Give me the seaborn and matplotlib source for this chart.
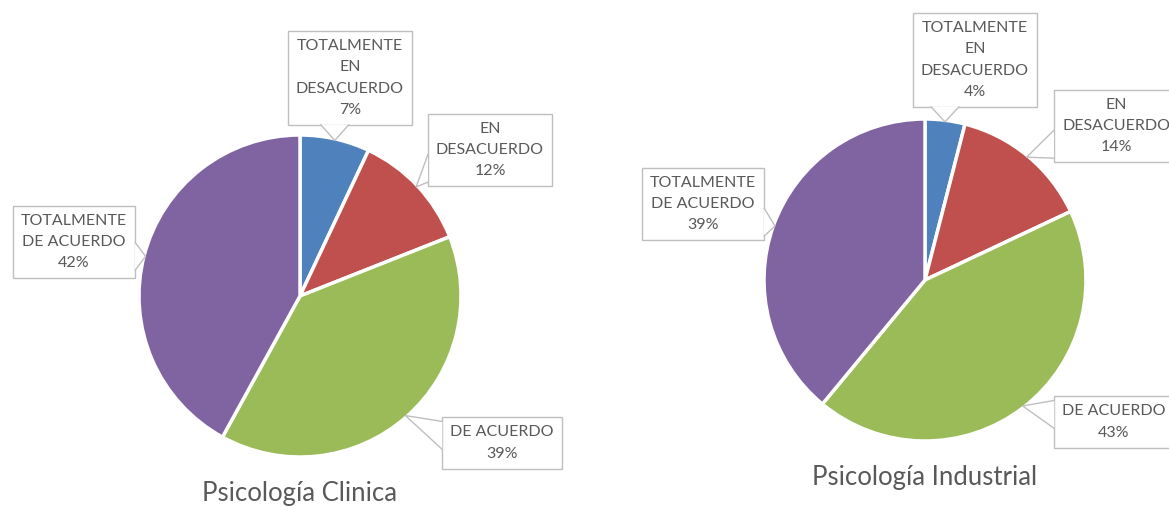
import numpy as np
import matplotlib.pyplot as plt
import seaborn as sns
from matplotlib.patches import Polygon
from matplotlib.lines import Line2D
from matplotlib.transforms import IdentityTransform

# data
categories = ['TOTALMENTE\nEN\nDESACUERDO', 'EN\nDESACUERDO', 'DE ACUERDO', 'TOTALMENTE\nDE ACUERDO']
clinica = [7, 12, 39, 42]
industrial = [4, 14, 43, 39]
titles = ['Psicología Clinica', 'Psicología Industrial']

sns.set_theme(style='white')
plt.rcParams['font.family'] = ['Lato', 'DejaVu Sans']
colors = ['#4F81BD', '#C0504D', '#9BBB59', '#8064A2']
edge = '#bfbfbf'

fig = plt.figure(figsize=(11.69, 5.08), dpi=100)
W, H = 1169, 508
R = 161
callouts = []


def add_pie(cx, cy, values, title, label_pos, title_y):
    ax = fig.add_axes([(cx - R) / W, (H - cy - R) / H, 2 * R / W, 2 * R / H])
    wedges, _ = ax.pie(values, colors=colors, startangle=90, counterclock=False,
                       wedgeprops=dict(edgecolor='white', linewidth=2.5))
    ax.set_xlim(-1, 1)
    ax.set_ylim(-1, 1)
    ax.axis('off')
    for w, cat, v, (tx, ty) in zip(wedges, categories, values, label_pos):
        mid = np.deg2rad((w.theta1 + w.theta2) / 2)
        tip = (0.99 * np.cos(mid), 0.99 * np.sin(mid))
        t = fig.text(tx / W, 1 - ty / H, f'{cat}\n{v}%', ha='center', va='center',
                     fontsize=11.5, color='#595959', linespacing=1.65, zorder=5,
                     bbox=dict(boxstyle='square,pad=0.5', fc='white', ec=edge, lw=1))
        callouts.append((ax, tip, t))
    fig.text(cx / W, 1 - title_y / H, title, ha='center', va='center',
             fontsize=18.5, color='#595959')


add_pie(300, 296, clinica, titles[0],
        [(350, 78), (490, 150), (502, 443), (74, 242)], 493)
add_pie(925, 280, industrial, titles[1],
        [(975, 60), (1116, 126), (1114, 422), (703, 204)], 478)

# speech-bubble pointers from each label box to its slice
fig.canvas.draw()
renderer = fig.canvas.get_renderer()
hw = 14
for ax, tip, t in callouts:
    bb = t.get_bbox_patch().get_window_extent(renderer)
    px, py = ax.transData.transform(tip)
    dx = max(bb.x0 - px, px - bb.x1, 0) / bb.width
    dy = max(bb.y0 - py, py - bb.y1, 0) / bb.height
    if dx > dy:
        ex = bb.x0 if px < bb.x0 else bb.x1
        c = np.clip(py, bb.y0 + hw + 4, bb.y1 - hw - 4)
        b1, b2 = (ex, c - hw), (ex, c + hw)
    else:
        ey = bb.y0 if py < bb.y0 else bb.y1
        c = np.clip(px, bb.x0 + hw + 4, bb.x1 - hw - 4)
        b1, b2 = (c - hw, ey), (c + hw, ey)
    fig.add_artist(Polygon([b1, (px, py), b2], closed=True, fc='white', ec='none',
                           lw=0, transform=IdentityTransform(), zorder=6))
    fig.add_artist(Line2D([b1[0], px, b2[0]], [b1[1], py, b2[1]], color=edge, lw=1,
                          transform=IdentityTransform(), zorder=7))

fig.savefig('out.png', dpi=100, facecolor='white')
